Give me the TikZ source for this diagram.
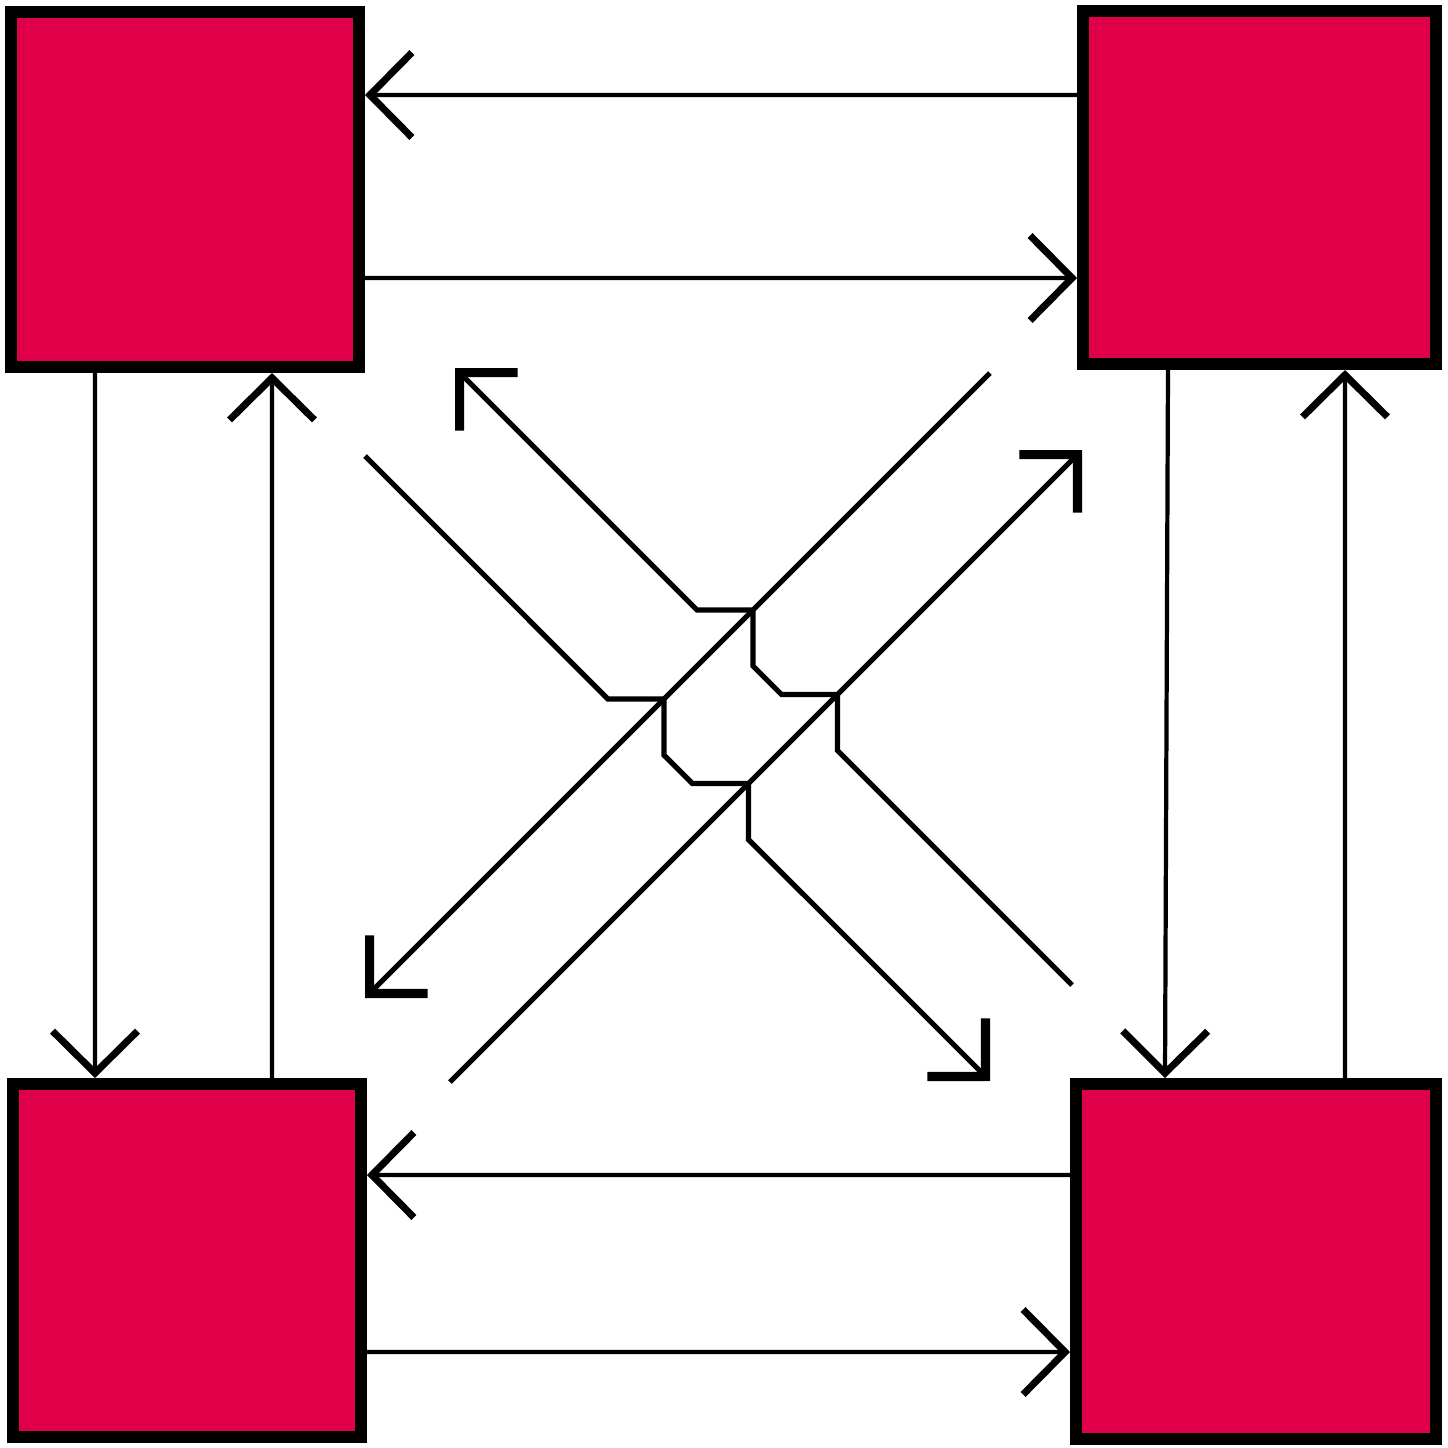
\documentclass[tikz,border=0pt]{standalone}
\usepackage{xcolor}
\definecolor{sqred}{RGB}{224,0,74}
\usetikzlibrary{arrows.meta,calc}

\begin{document}
\begin{tikzpicture}[
  sq/.style={rectangle, draw=black, line width=0.12cm, fill=sqred,
             inner sep=0pt, minimum width=3.5cm, minimum height=3.53cm},
  conn/.style={-{Straight Barb[length=4.2mm, width=8.5mm, line width=2pt]}, line width=1.2pt},
  diag/.style={-{Straight Barb[length=4.1mm, width=8.2mm, line width=2.6pt]}, line width=1.5pt}
]
\useasboundingbox (0,0) rectangle (14.48,-14.48);

% Squares
\node[sq, minimum width=3.48cm, minimum height=3.55cm] (tl) at ( 1.85, -1.895) {};
\node[sq, minimum width=3.53cm, minimum height=3.53cm] (tr) at (12.595,-1.875) {};
\node[sq, minimum width=3.48cm, minimum height=3.53cm] (bl) at ( 1.87,-12.605) {};
\node[sq, minimum width=3.60cm, minimum height=3.55cm] (br) at (12.56,-12.615) {};

% Arrows between neighbours
\draw[conn] ([yshift=9.25mm]tr.west)   -- ([yshift=9.45mm]tl.east);
\draw[conn] ([yshift=-8.85mm]tl.east)  -- ([yshift=-9.05mm]tr.west);
\draw[conn] ([xshift=-9.0mm]tl.south)  -- ([xshift=-9.2mm]bl.north);
\draw[conn] ([xshift=8.5mm]bl.north)   -- ([xshift=8.7mm]tl.south);
\draw[conn] ([xshift=-9.15mm]tr.south) -- ([xshift=-9.1mm]br.north);
\draw[conn] ([xshift=8.9mm]br.north)   -- ([xshift=8.55mm]tr.south);
\draw[conn] ([yshift=8.65mm]br.west)   -- ([yshift=8.55mm]bl.east);
\draw[conn] ([yshift=-9.15mm]bl.east)  -- ([yshift=-9.05mm]br.west);

% Diagonal ends
\coordinate (u1s) at ( 9.90, -3.73);
\coordinate (u1t) at ( 3.65, -9.98);
\coordinate (u2s) at ( 4.50,-10.82);
\coordinate (u2t) at (10.82, -4.50);
\coordinate (d1s) at (10.72, -9.85);
\coordinate (d1t) at ( 4.55, -3.68);
\coordinate (d2s) at ( 3.65, -4.56);
\coordinate (d2t) at ( 9.90,-10.81);

% Crossings
\coordinate (x1) at (intersection of u1s--u1t and d1s--d1t);
\coordinate (x2) at (intersection of u2s--u2t and d1s--d1t);
\coordinate (x3) at (intersection of u1s--u1t and d2s--d2t);
\coordinate (x4) at (intersection of u2s--u2t and d2s--d2t);

% Diagonal arrows
\draw[diag] (u1s) -- (u1t);
\draw[diag] (u2s) -- (u2t);
\draw[diag] (d1s) -- ($(x2)+(0.28,-0.28)$) -- ($(x2)+(0.28,0.28)$) -- ($(x2)+(-0.28,0.28)$)
                  -- ($(x1)+(0.28,-0.28)$) -- ($(x1)+(0.28,0.28)$) -- ($(x1)+(-0.28,0.28)$) -- (d1t);
\draw[diag] (d2s) -- ($(x3)+(-0.28,0.28)$) -- ($(x3)+(0.28,0.28)$) -- ($(x3)+(0.28,-0.28)$)
                  -- ($(x4)+(-0.28,0.28)$) -- ($(x4)+(0.28,0.28)$) -- ($(x4)+(0.28,-0.28)$) -- (d2t);
\end{tikzpicture}
\end{document}
